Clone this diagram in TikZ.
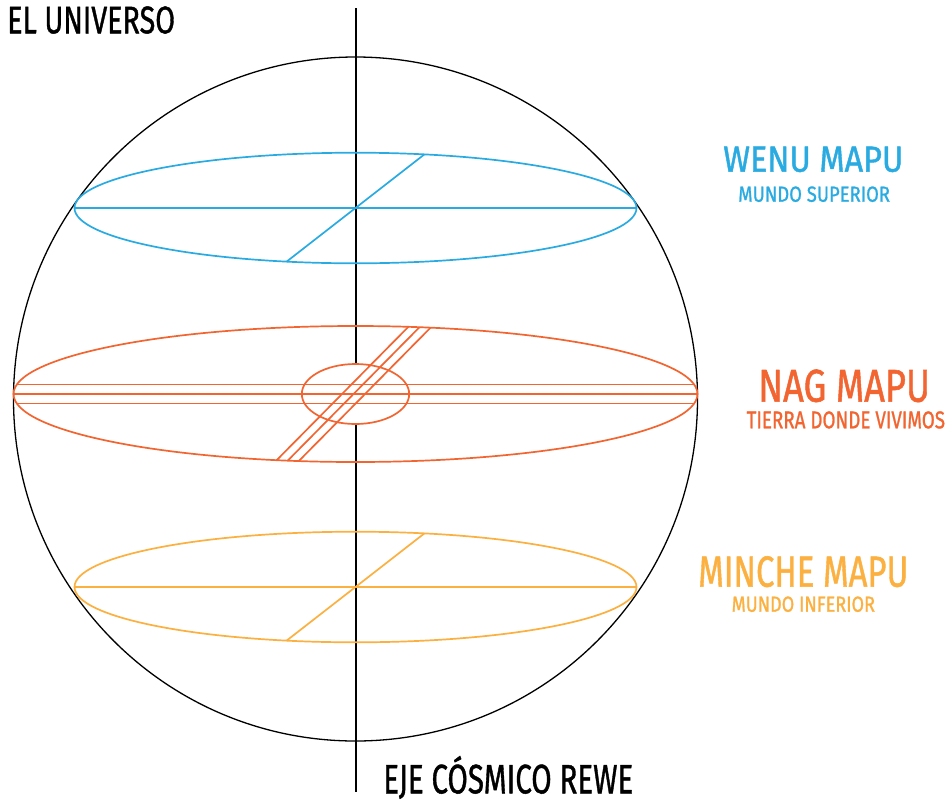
\documentclass[tikz,border=0pt]{standalone}
\usepackage{fontspec}
\setmainfont{Fira Sans}[FakeBold=1.2]
\usepackage{graphicx}
\definecolor{wenu}{HTML}{29ABE2}
\definecolor{nag}{HTML}{F26531}
\definecolor{minche}{HTML}{FBB040}
\newcommand\fitlabel[3]{\resizebox{#1pt}{#2pt}{\vphantom{E}\smash{#3}}}
\begin{document}
\begin{tikzpicture}[x=1pt,y=-1pt,line join=round,
  orb/.style={draw=black,line width=1.3pt},
  axisline/.style={draw=black,line width=2pt},
  plane/.style={line width=1.7pt},
  lbl/.style={inner sep=0pt,outer sep=0pt,anchor=south west}]
\useasboundingbox (0,0) rectangle (950,801);
\fill[white] (0,0) rectangle (950,801);
% sphere and axis
\coordinate (O) at (355.5,399);
\draw[orb] (O) circle[radius=342pt];
\coordinate (axtop) at (355.5,8);
\coordinate (axbot) at (355.5,792);
\draw[axisline] (axtop) -- (axbot);
% Wenu Mapu plane
\coordinate (wc) at (355.5,208);
\draw[plane,wenu] (wc) ellipse[x radius=281pt,y radius=55.3pt];
\draw[plane,wenu] (wc) +(-281,0) -- +(281,0);
\draw[plane,wenu] (wc) +(-69,53.7) -- +(69,-53.7);
% Nag Mapu plane
\coordinate (nc) at (355.5,394);
\draw[plane,nag] (nc) ellipse[x radius=342pt,y radius=68pt];
\draw[plane,nag,fill=white] (nc) ellipse[x radius=53.7pt,y radius=30pt];
\begin{scope}
  \clip (nc) ellipse[x radius=342pt,y radius=68pt];
  \draw[plane,nag] (nc) +(-350,-9.5) -- +(350,-9.5);
  \draw[plane,nag] (nc) +(-350,0) -- +(350,0);
  \draw[plane,nag] (nc) +(-350,9.5) -- +(350,9.5);
  \draw[plane,nag] (nc) +(-92,79.5) -- +(68,-82.5);
  \draw[plane,nag] (nc) +(-80.5,79.5) -- +(79.5,-82.5);
  \draw[plane,nag] (nc) +(-69,79.5) -- +(91,-82.5);
\end{scope}
% Minche Mapu plane
\coordinate (mc) at (355.5,587);
\draw[plane,minche] (mc) ellipse[x radius=281pt,y radius=55.3pt];
\draw[plane,minche] (mc) +(-281,0) -- +(281,0);
\draw[plane,minche] (mc) +(-69,53.7) -- +(69,-53.7);
% labels
\node[lbl,text=black] (universo) at (7.3,33.3) {\fitlabel{167.7}{26.5}{EL UNIVERSO}};
\node[lbl,text=black] (eje) at (383.3,793.3) {\fitlabel{250}{28.3}{EJE CÓSMICO REWE}};
\node[lbl,text=wenu] (wenu) at (723.3,171.7) {\fitlabel{180}{25}{WENU MAPU}};
\node[lbl,text=wenu] (wenusub) at (738.3,201.7) {\fitlabel{151.7}{15}{MUNDO SUPERIOR}};
\node[lbl,text=nag] (nag) at (758.3,401.7) {\fitlabel{171.7}{31.7}{NAG MAPU}};
\node[lbl,text=nag] (nagsub) at (746.7,428.3) {\fitlabel{198.3}{16.7}{TIERRA DONDE VIVIMOS}};
\node[lbl,text=minche] (minche) at (698.3,586.7) {\fitlabel{210}{30}{MINCHE MAPU}};
\node[lbl,text=minche] (minchesub) at (731.7,611.7) {\fitlabel{143.3}{15}{MUNDO INFERIOR}};
\end{tikzpicture}
\end{document}
